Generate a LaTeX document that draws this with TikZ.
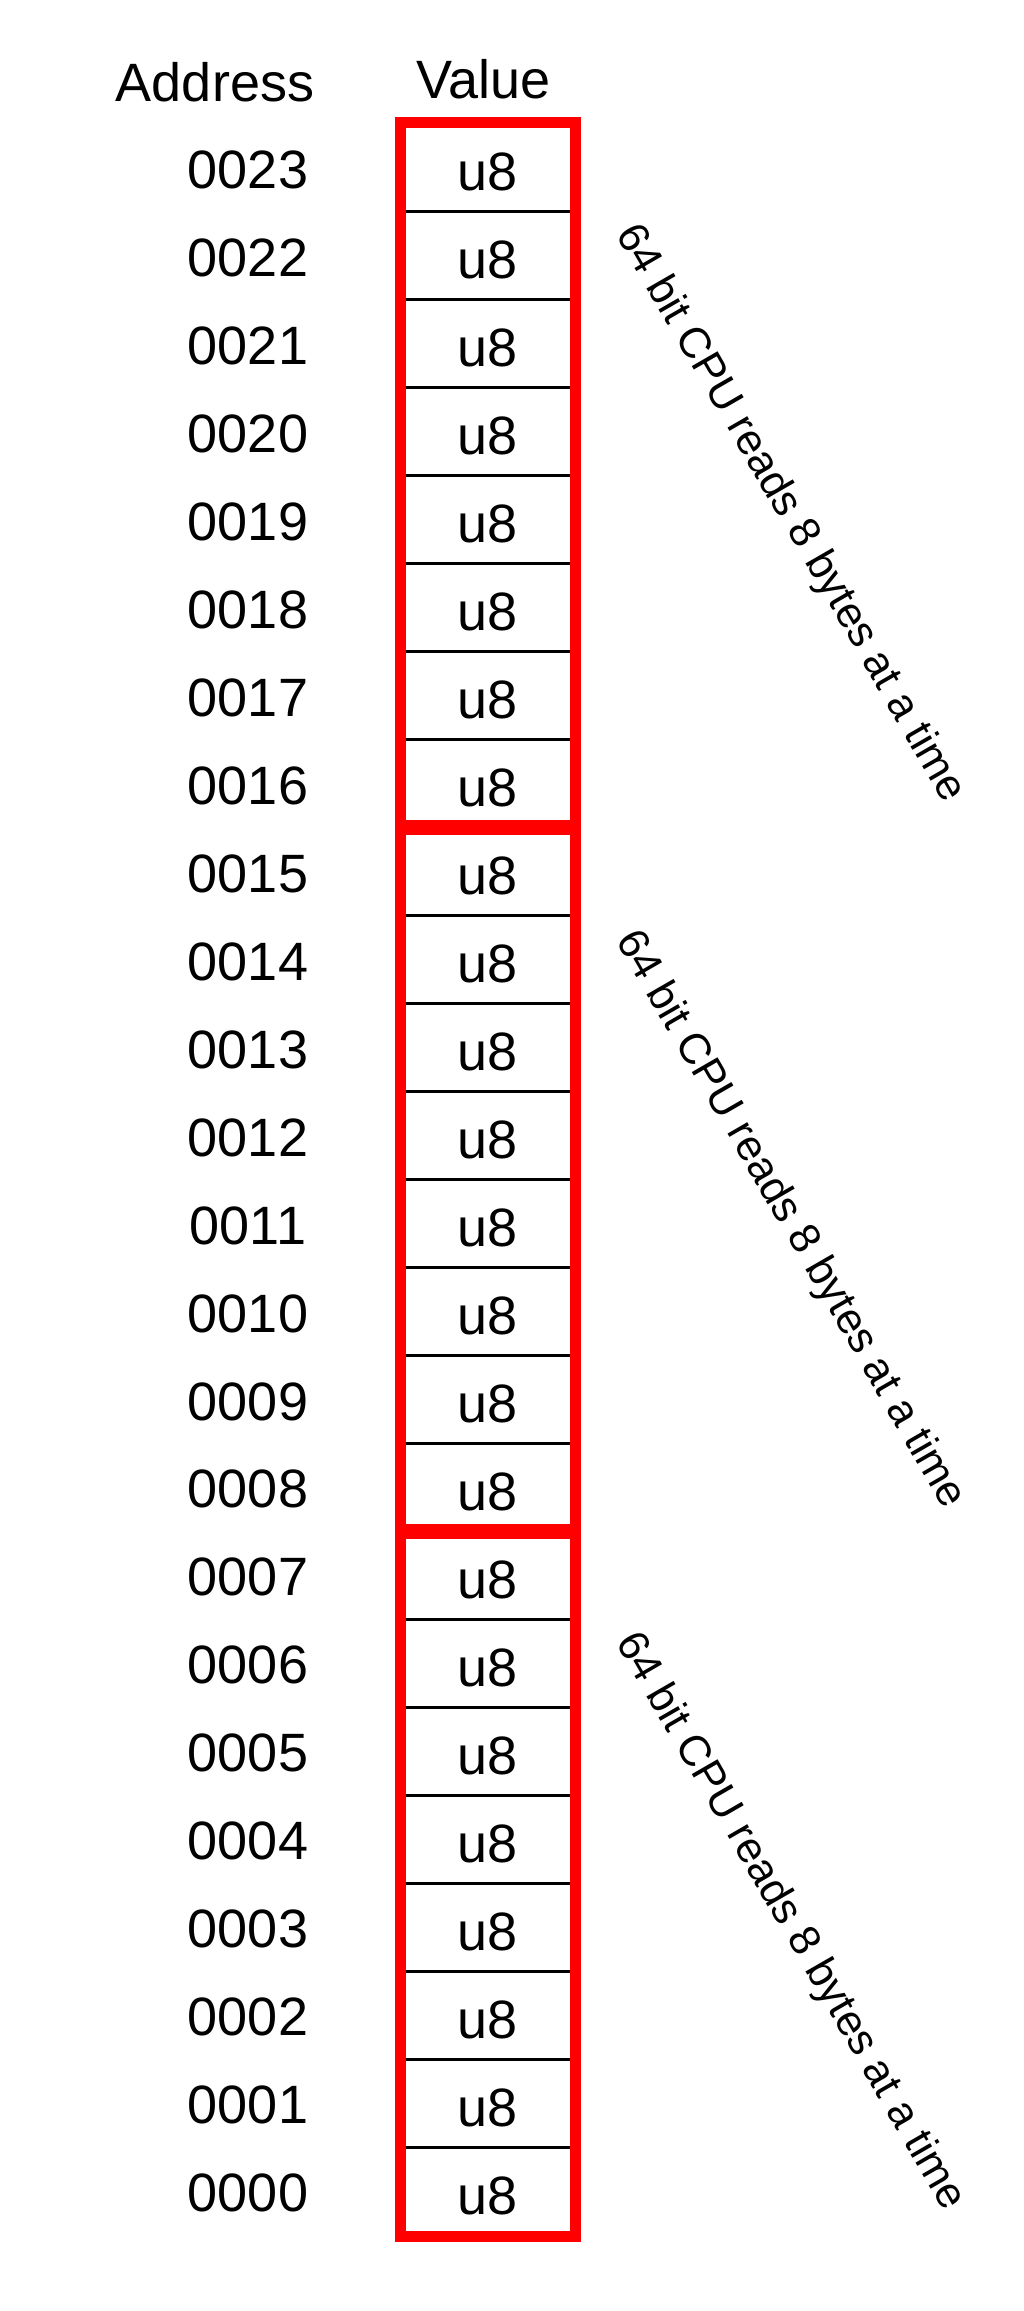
\documentclass[tikz,border=0pt]{standalone}
\usepackage{fontspec}
\setmainfont{Liberation Sans}
\begin{document}
\begin{tikzpicture}[x=1pt,y=-1pt,
  big/.style={font=\fontsize{54}{60}\selectfont, inner sep=0pt},
  cell/.style={big, draw=black, line width=3pt, minimum width=172pt, minimum height=87.96pt, text height=46pt, text depth=0pt, anchor=center},
  addr/.style={big, anchor=center, yshift=-2pt},
  block/.style={draw=red, line width=11.7pt},
  note/.style={font=\fontsize{43.2}{48}\selectfont, inner sep=0pt, rotate=-60, anchor=center}]
\useasboundingbox (0,0) rectangle (1024,2311);
\fill[white] (0,0) rectangle (1024,2311);
\node[big, anchor=base] (haddr) at (215,101.7) {Address};
\node[big, anchor=base] (hval) at (483.5,98) {Value};
\foreach \i in {0,...,23}{
  \pgfmathtruncatemacro{\adr}{23-\i}
  \pgfmathsetmacro{\yc}{124+(\i+0.5)*87.96}
  \node[cell] (c\i) at (488,\yc) {u8};
  \node[addr] (a\i) at (248,\yc) {\ifnum\adr<10 000\adr\else 00\adr\fi};
}
\draw[block] (c0.north west) rectangle (c7.south east);
\draw[block] (c8.north west) rectangle (c15.south east);
\draw[block] (c16.north west) rectangle (c23.south east);
\node[note] (n1) at (790,514) {64 bit CPU reads 8 bytes at a time};
\node[note] (n2) at (790,1220) {64 bit CPU reads 8 bytes at a time};
\node[note] (n3) at (790,1922) {64 bit CPU reads 8 bytes at a time};
\end{tikzpicture}
\end{document}
